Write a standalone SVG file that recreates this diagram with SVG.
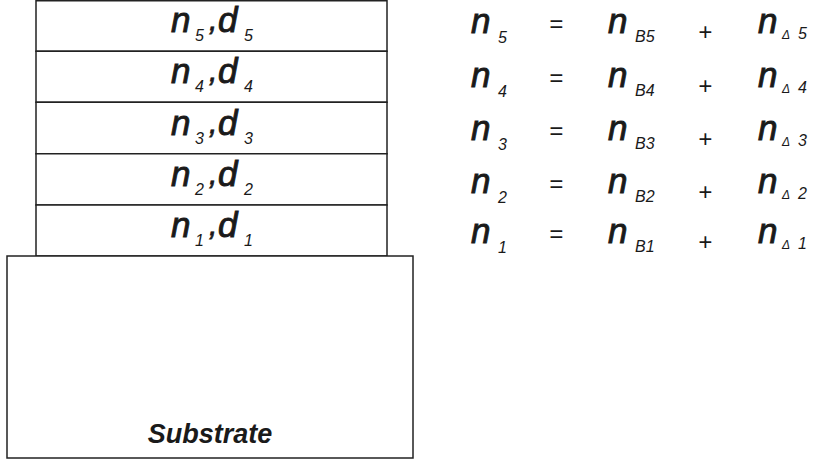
<svg xmlns="http://www.w3.org/2000/svg" width="813" height="462" viewBox="0 0 813 462">
<style>
.box{fill:#fff;stroke:#222;stroke-width:1.5}
text{font-family:"Liberation Sans",Arial,sans-serif;font-style:italic;fill:#1a1a1a}
.m{font-size:35px;stroke:#1a1a1a;stroke-width:0.9}
.c{font-size:30px;stroke:#1a1a1a;stroke-width:0.8}
.s{font-size:16px}
.d{font-size:12px}
.op{font-size:24px}
.sub{font-size:27px;font-weight:bold}
</style>
<rect width="813" height="462" fill="#fff"/>
<g id="layer5"><rect class="box" x="36" y="0.75" width="351" height="50.5"/>
<text class="m" x="171" y="32">n</text><text class="s" x="195" y="41">5</text><text class="c" x="209" y="30">,</text><text class="m" x="218" y="32">d</text><text class="s" x="244" y="41">5</text></g>
<g id="layer4"><rect class="box" x="36" y="51.25" width="351" height="51"/>
<text class="m" x="171" y="83">n</text><text class="s" x="195" y="92">4</text><text class="c" x="209" y="81">,</text><text class="m" x="218" y="83">d</text><text class="s" x="244" y="92">4</text></g>
<g id="layer3"><rect class="box" x="36" y="102.25" width="351" height="51.5"/>
<text class="m" x="171" y="135">n</text><text class="s" x="195" y="144">3</text><text class="c" x="209" y="133">,</text><text class="m" x="218" y="135">d</text><text class="s" x="244" y="144">3</text></g>
<g id="layer2"><rect class="box" x="36" y="153.75" width="351" height="51.25"/>
<text class="m" x="171" y="186">n</text><text class="s" x="195" y="195">2</text><text class="c" x="209" y="184">,</text><text class="m" x="218" y="186">d</text><text class="s" x="244" y="195">2</text></g>
<g id="layer1"><rect class="box" x="36" y="205" width="351" height="51"/>
<text class="m" x="171" y="237">n</text><text class="s" x="195" y="246">1</text><text class="c" x="209" y="235">,</text><text class="m" x="218" y="237">d</text><text class="s" x="244" y="246">1</text></g>
<g id="substrate"><rect class="box" x="7" y="256" width="406" height="202"/>
<text class="sub" x="210" y="443" text-anchor="middle">Substrate</text></g>
<g id="eq5">
<text class="m" x="471" y="33">n</text><text class="s" x="498" y="43">5</text>
<text class="op" x="549" y="32">=</text>
<text class="m" x="608" y="33">n</text><text class="s" x="635" y="42">B5</text>
<text class="op" x="698" y="40">+</text>
<text class="m" x="758" y="33">n</text><text class="d" x="782" y="39">Δ</text><text class="s" x="798" y="39">5</text></g>
<g id="eq4">
<text class="m" x="471" y="87">n</text><text class="s" x="498" y="97">4</text>
<text class="op" x="549" y="86">=</text>
<text class="m" x="608" y="87">n</text><text class="s" x="635" y="96">B4</text>
<text class="op" x="698" y="94">+</text>
<text class="m" x="758" y="87">n</text><text class="d" x="782" y="93">Δ</text><text class="s" x="798" y="93">4</text></g>
<g id="eq3">
<text class="m" x="471" y="140">n</text><text class="s" x="498" y="150">3</text>
<text class="op" x="549" y="139">=</text>
<text class="m" x="608" y="140">n</text><text class="s" x="635" y="149">B3</text>
<text class="op" x="698" y="147">+</text>
<text class="m" x="758" y="140">n</text><text class="d" x="782" y="146">Δ</text><text class="s" x="798" y="146">3</text></g>
<g id="eq2">
<text class="m" x="471" y="193">n</text><text class="s" x="498" y="203">2</text>
<text class="op" x="549" y="192">=</text>
<text class="m" x="608" y="193">n</text><text class="s" x="635" y="202">B2</text>
<text class="op" x="698" y="200">+</text>
<text class="m" x="758" y="193">n</text><text class="d" x="782" y="199">Δ</text><text class="s" x="798" y="199">2</text></g>
<g id="eq1">
<text class="m" x="471" y="243">n</text><text class="s" x="498" y="253">1</text>
<text class="op" x="549" y="242">=</text>
<text class="m" x="608" y="243">n</text><text class="s" x="635" y="252">B1</text>
<text class="op" x="698" y="250">+</text>
<text class="m" x="758" y="243">n</text><text class="d" x="782" y="249">Δ</text><text class="s" x="798" y="249">1</text></g>
</svg>
